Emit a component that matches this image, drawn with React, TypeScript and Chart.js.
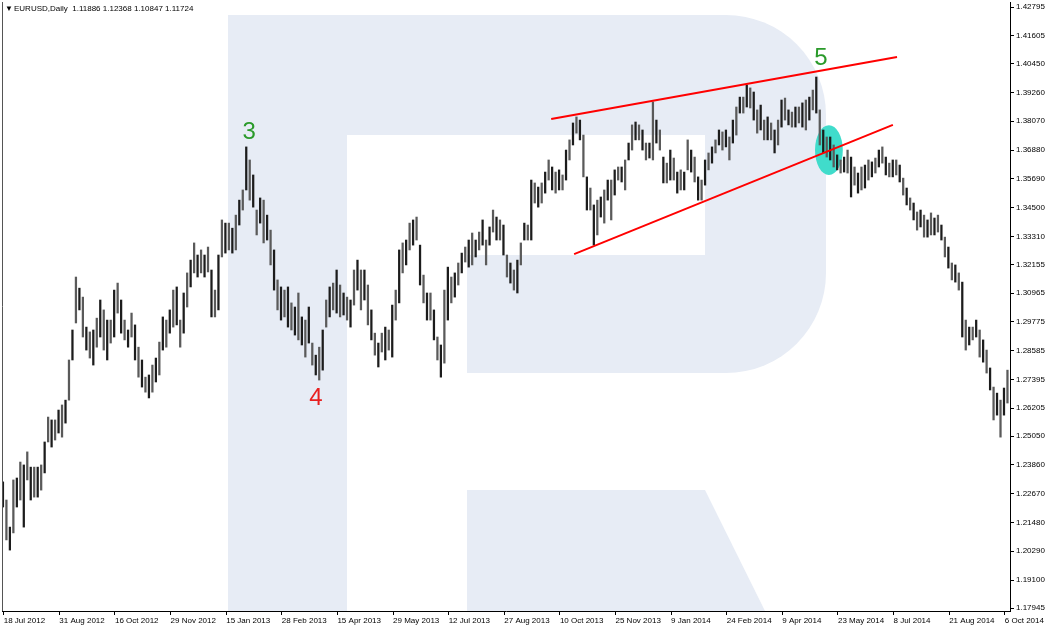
import React, { useEffect, useRef } from "react";
import { Chart, registerables } from "chart.js";

Chart.register(...registerables);

// ---------- data ----------
const headerText = "EURUSD,Daily  1.11886 1.12368 1.10847 1.11724";

const tickLabels = [
  "18 Jul 2012", "31 Aug 2012", "16 Oct 2012", "29 Nov 2012", "15 Jan 2013",
  "28 Feb 2013", "15 Apr 2013", "29 May 2013", "12 Jul 2013", "27 Aug 2013",
  "10 Oct 2013", "25 Nov 2013", "9 Jan 2014", "24 Feb 2014", "9 Apr 2014",
  "23 May 2014", "8 Jul 2014", "21 Aug 2014", "6 Oct 2014",
];
const barsPerTick = 16;

const priceTicks = [
  1.42795, 1.41605, 1.4045, 1.3926, 1.3807, 1.3688, 1.3569, 1.345, 1.3331,
  1.32155, 1.30965, 1.29775, 1.28585, 1.27395, 1.26205, 1.2505, 1.2386,
  1.2267, 1.2148, 1.2029, 1.191, 1.17945,
];
const priceMin = 1.17821;
const priceMax = 1.43002;

// one bar = two trading days (high / low)
const highs = [
  1.2316, 1.2241, 1.2129, 1.2324, 1.2332, 1.2398, 1.2386, 1.2440, 1.2377, 1.2377,
  1.2377, 1.2386, 1.2481, 1.2584, 1.2572, 1.2572, 1.2613, 1.2634, 1.2654, 1.2820,
  1.2944, 1.3163, 1.3117, 1.3080, 1.2956, 1.2936, 1.2944, 1.2993, 1.3068, 1.3027,
  1.2985, 1.2985, 1.3109, 1.3138, 1.3068, 1.2985, 1.2944, 1.3014, 1.2965, 1.2873,
  1.2820, 1.2749, 1.2758, 1.2799, 1.2828, 1.2894, 1.2998, 1.2985, 1.3027, 1.3109,
  1.3122, 1.2985, 1.3097, 1.3180, 1.3233, 1.3304, 1.3254, 1.3275, 1.3254, 1.3287,
  1.3192, 1.3109, 1.3254, 1.3399, 1.3386, 1.3386, 1.3365, 1.3419, 1.3481, 1.3523,
  1.3701, 1.3647, 1.3585, 1.3440, 1.3490, 1.3481, 1.3419, 1.3357, 1.3275, 1.3151,
  1.3122, 1.3109, 1.3122, 1.3056, 1.3039, 1.3097, 1.2998, 1.2985, 1.3039, 1.2890,
  1.2840, 1.2873, 1.2944, 1.3068, 1.3122, 1.3138, 1.3192, 1.3130, 1.3097, 1.3080,
  1.3068, 1.3192, 1.3233, 1.3192, 1.3192, 1.3130, 1.3027, 1.2931, 1.2890, 1.2931,
  1.2956, 1.2944, 1.3047, 1.3109, 1.3275, 1.3304, 1.3316, 1.3386, 1.3399, 1.3411,
  1.3295, 1.3171, 1.3097, 1.3097, 1.3027, 1.2915, 1.2882, 1.3109, 1.3204, 1.3163,
  1.3180, 1.3221, 1.3262, 1.3287, 1.3316, 1.3345, 1.3316, 1.3349, 1.3399, 1.3316,
  1.3370, 1.3440, 1.3411, 1.3399, 1.3378, 1.3254, 1.3221, 1.3192, 1.3233, 1.3304,
  1.3386, 1.3378, 1.3564, 1.3552, 1.3535, 1.3552, 1.3597, 1.3647, 1.3618, 1.3597,
  1.3606, 1.3585, 1.3688, 1.3730, 1.3800, 1.3825, 1.3812, 1.3750, 1.3577, 1.3531,
  1.3461, 1.3481, 1.3494, 1.3523, 1.3564, 1.3564, 1.3606, 1.3618, 1.3618, 1.3647,
  1.3717, 1.3792, 1.3804, 1.3792, 1.3771, 1.3717, 1.3717, 1.3887, 1.3812, 1.3771,
  1.3659, 1.3634, 1.3688, 1.3655, 1.3597, 1.3606, 1.3597, 1.3730, 1.3688, 1.3659,
  1.3577, 1.3564, 1.3647, 1.3676, 1.3701, 1.3730, 1.3771, 1.3763, 1.3771, 1.3742,
  1.3812, 1.3866, 1.3907, 1.3907, 1.3957, 1.3945, 1.3928, 1.3854, 1.3874, 1.3812,
  1.3825, 1.3800, 1.3771, 1.3812, 1.3895, 1.3903, 1.3854, 1.3845, 1.3866, 1.3866,
  1.3883, 1.3895, 1.3907, 1.3936, 1.3990, 1.3854, 1.3771, 1.3742, 1.3742, 1.3709,
  1.3668, 1.3647, 1.3659, 1.3688, 1.3659, 1.3618, 1.3593, 1.3618, 1.3626, 1.3647,
  1.3639, 1.3655, 1.3688, 1.3701, 1.3659, 1.3634, 1.3647, 1.3647, 1.3626, 1.3572,
  1.3531, 1.3490, 1.3469, 1.3432, 1.3440, 1.3419, 1.3399, 1.3428, 1.3407, 1.3419,
  1.3378, 1.3328, 1.3287, 1.3221, 1.3213, 1.3180, 1.3142, 1.2985, 1.2956, 1.2956,
  1.2985, 1.2944, 1.2903, 1.2861, 1.2787, 1.2708, 1.2683, 1.2654, 1.2704, 1.2778,
];

const lows = [
  1.2212, 1.2076, 1.2034, 1.2105, 1.2212, 1.2241, 1.2129, 1.2324, 1.2241, 1.2253,
  1.2253, 1.2282, 1.2353, 1.2481, 1.2460, 1.2489, 1.2518, 1.2501, 1.2559, 1.2654,
  1.2820, 1.2973, 1.3027, 1.2915, 1.2861, 1.2828, 1.2799, 1.2873, 1.2915, 1.2861,
  1.2820, 1.2890, 1.2915, 1.3014, 1.2931, 1.2903, 1.2873, 1.2915, 1.2820, 1.2749,
  1.2708, 1.2687, 1.2663, 1.2687, 1.2729, 1.2758, 1.2861, 1.2873, 1.2931, 1.2956,
  1.2965, 1.2873, 1.2931, 1.3039, 1.3122, 1.3180, 1.3163, 1.3180, 1.3163, 1.3184,
  1.2998, 1.2998, 1.3027, 1.3246, 1.3262, 1.3275, 1.3262, 1.3275, 1.3378, 1.3440,
  1.3523, 1.3481, 1.3452, 1.3337, 1.3386, 1.3304, 1.3316, 1.3213, 1.3109, 1.3027,
  1.2985, 1.2998, 1.2956, 1.2944, 1.2923, 1.2903, 1.2882, 1.2832, 1.2890, 1.2799,
  1.2758, 1.2737, 1.2778, 1.2956, 1.2998, 1.3027, 1.3014, 1.2998, 1.3006, 1.2985,
  1.2956, 1.3047, 1.3109, 1.3027, 1.3068, 1.2965, 1.2903, 1.2840, 1.2791, 1.2853,
  1.2820, 1.2861, 1.2832, 1.2985, 1.3056, 1.3180, 1.3213, 1.3275, 1.3295, 1.3316,
  1.3130, 1.3056, 1.2985, 1.2985, 1.2903, 1.2820, 1.2749, 1.2807, 1.2985, 1.3056,
  1.3080, 1.3130, 1.3180, 1.3225, 1.3204, 1.3213, 1.3246, 1.3275, 1.3295, 1.3213,
  1.3295, 1.3349, 1.3316, 1.3316, 1.3254, 1.3163, 1.3138, 1.3109, 1.3097, 1.3213,
  1.3316, 1.3316, 1.3316, 1.3469, 1.3452, 1.3469, 1.3510, 1.3564, 1.3523, 1.3510,
  1.3523, 1.3523, 1.3564, 1.3647, 1.3709, 1.3758, 1.3730, 1.3577, 1.3440, 1.3440,
  1.3295, 1.3337, 1.3411, 1.3386, 1.3481, 1.3399, 1.3502, 1.3564, 1.3556, 1.3523,
  1.3647, 1.3688, 1.3730, 1.3730, 1.3688, 1.3647, 1.3655, 1.3647, 1.3717, 1.3688,
  1.3552, 1.3552, 1.3564, 1.3564, 1.3510, 1.3523, 1.3523, 1.3606, 1.3597, 1.3556,
  1.3481, 1.3481, 1.3543, 1.3606, 1.3634, 1.3676, 1.3709, 1.3688, 1.3701, 1.3647,
  1.3717, 1.3750, 1.3841, 1.3841, 1.3866, 1.3862, 1.3812, 1.3758, 1.3771, 1.3730,
  1.3730, 1.3730, 1.3676, 1.3709, 1.3783, 1.3812, 1.3792, 1.3783, 1.3783, 1.3800,
  1.3783, 1.3771, 1.3812, 1.3854, 1.3841, 1.3709, 1.3676, 1.3659, 1.3647, 1.3618,
  1.3606, 1.3593, 1.3597, 1.3593, 1.3494, 1.3543, 1.3510, 1.3523, 1.3531, 1.3564,
  1.3577, 1.3593, 1.3618, 1.3634, 1.3585, 1.3577, 1.3577, 1.3585, 1.3556, 1.3502,
  1.3461, 1.3440, 1.3399, 1.3357, 1.3370, 1.3328, 1.3328, 1.3337, 1.3337, 1.3349,
  1.3316, 1.3246, 1.3200, 1.3151, 1.3142, 1.3109, 1.2915, 1.2861, 1.2882, 1.2903,
  1.2915, 1.2832, 1.2811, 1.2766, 1.2696, 1.2572, 1.2592, 1.2501, 1.2592, 1.2642,
];

// trend lines (bar index, price)
const upperTrend = [
  { x: 157.5, y: 1.3816 },
  { x: 257.0, y: 1.4073 },
];
const lowerTrend = [
  { x: 164.1, y: 1.3258 },
  { x: 255.8, y: 1.3792 },
];

// wave labels (bar index, price)
const waveLabels = [
  { text: "3", x: 70.6, y: 1.3763, color: "#2a9a2a" },
  { text: "4", x: 89.8, y: 1.2663, color: "#e82020" },
  { text: "5", x: 235.1, y: 1.4069, color: "#2a9a2a" },
];

// breakout marker (bar index, price, half extents)
const breakout = { x: 237.4, y: 1.3688, halfBars: 4, halfPrice: 0.0103 };

// ---------- styles ----------
const FONT = "'Liberation Sans', Arial, sans-serif";
const WATERMARK = "#e7ecf5";

export default function App() {
  const ref = useRef<HTMLCanvasElement | null>(null);

  useEffect(() => {
    const canvas = ref.current;
    if (!canvas) return;
    const N = highs.length;
    const labels = highs.map((_, i) =>
      i % barsPerTick === 0 ? tickLabels[i / barsPerTick] ?? "" : ""
    );

    const bgPlugin = {
      id: "bgWatermark",
      beforeDraw(chart: any) {
        const { ctx, chartArea: ca } = chart;
        ctx.save();
        ctx.fillStyle = "#ffffff";
        ctx.fillRect(0, 0, chart.width, chart.height);
        ctx.beginPath();
        ctx.rect(ca.left, ca.top, ca.right - ca.left, ca.bottom - ca.top);
        ctx.clip();
        const sx = (ca.right - ca.left) / 1008;
        const sy = (ca.bottom - ca.top) / 609;
        const X = (v: number) => ca.left + (v - 2) * sx;
        const Y = (v: number) => ca.top + (v - 2) * sy;
        ctx.fillStyle = WATERMARK;
        // bowl
        const r = 100 * sx;
        ctx.beginPath();
        ctx.moveTo(X(228), Y(15));
        ctx.lineTo(X(826) - r, Y(15));
        ctx.arcTo(X(826), Y(15), X(826), Y(15) + r, r);
        ctx.lineTo(X(826), Y(373) - r);
        ctx.arcTo(X(826), Y(373), X(826) - r, Y(373), r);
        ctx.lineTo(X(228), Y(373));
        ctx.closePath();
        ctx.fill();
        // stem
        ctx.fillRect(X(228), Y(373), X(347) - X(228), Y(615) - Y(373));
        // leg
        ctx.beginPath();
        ctx.moveTo(X(467), Y(490));
        ctx.lineTo(X(705), Y(490));
        ctx.lineTo(X(767), Y(615));
        ctx.lineTo(X(467), Y(615));
        ctx.closePath();
        ctx.fill();
        // holes
        ctx.fillStyle = "#ffffff";
        ctx.fillRect(X(347), Y(135), X(705) - X(347), Y(255) - Y(135));
        ctx.fillRect(X(347), Y(255), X(467) - X(347), Y(373) - Y(255));
        ctx.restore();
      },
    };

    const markerPlugin = {
      id: "breakoutMarker",
      beforeDatasetsDraw(chart: any) {
        const { ctx } = chart;
        const xs = chart.scales.xl;
        const ys = chart.scales.y;
        const cx = xs.getPixelForValue(breakout.x);
        const cy = ys.getPixelForValue(breakout.y);
        const rx = Math.abs(xs.getPixelForValue(breakout.x + breakout.halfBars) - cx);
        const ry = Math.abs(ys.getPixelForValue(breakout.y + breakout.halfPrice) - cy);
        ctx.save();
        ctx.fillStyle = "#40dccb";
        ctx.beginPath();
        ctx.ellipse(cx, cy, rx, ry, 0, 0, Math.PI * 2);
        ctx.fill();
        ctx.restore();
      },
      afterDatasetsDraw(chart: any) {
        const { ctx } = chart;
        const xs = chart.scales.xl;
        const ys = chart.scales.y;
        ctx.save();
        ctx.font = `24px ${FONT}`;
        ctx.textAlign = "center";
        ctx.textBaseline = "middle";
        waveLabels.forEach((w) => {
          ctx.fillStyle = w.color;
          ctx.fillText(w.text, xs.getPixelForValue(w.x), ys.getPixelForValue(w.y));
        });
        ctx.restore();
      },
      afterDraw(chart: any) {
        const { ctx, chartArea: ca } = chart;
        ctx.save();
        ctx.strokeStyle = "#555555";
        ctx.lineWidth = 1;
        ctx.beginPath();
        ctx.moveTo(Math.round(ca.left) + 0.5, ca.top);
        ctx.lineTo(Math.round(ca.left) + 0.5, ca.bottom);
        ctx.stroke();
        ctx.fillStyle = "#000000";
        ctx.font = `8px ${FONT}`;
        ctx.textBaseline = "middle";
        ctx.textAlign = "left";
        ctx.fillText("\u25BC", ca.left + 3, ca.top + 7);
        ctx.fillText(headerText, ca.left + 12, ca.top + 7);
        ctx.restore();
      },
    };

    const chart = new Chart(canvas, {
      type: "bar",
      data: {
        labels,
        datasets: [
          {
            type: "bar",
            label: "EURUSD",
            xAxisID: "x",
            yAxisID: "y",
            data: lows.map((l, i) => [l, highs[i]]) as any,
            backgroundColor: highs.map((_, i) => (i % 2 ? "#5a5a5a" : "#1c1c1c")),
            borderWidth: 0,
            borderSkipped: false,
            barThickness: 1.6,
            order: 2,
          } as any,
          {
            type: "line",
            label: "upper",
            xAxisID: "xl",
            yAxisID: "y",
            data: upperTrend as any,
            borderColor: "#ff0000",
            borderWidth: 2,
            pointRadius: 0,
            order: 1,
          } as any,
          {
            type: "line",
            label: "lower",
            xAxisID: "xl",
            yAxisID: "y",
            data: lowerTrend as any,
            borderColor: "#ff0000",
            borderWidth: 2,
            pointRadius: 0,
            order: 1,
          } as any,
        ],
      },
      options: {
        responsive: false,
        animation: false,
        devicePixelRatio: 1,
        events: [],
        layout: { padding: { left: 2, top: 2, right: 0, bottom: 0 } },
        plugins: {
          legend: { display: false },
          tooltip: { enabled: false },
        },
        scales: {
          x: {
            type: "category",
            offset: true,
            afterBuildTicks: (s: any) => {
              s.ticks = s.ticks.filter((t: any) => t.value % barsPerTick === 0);
            },
            afterFit: (s: any) => {
              s.height = 19;
              s.paddingLeft = 0;
              s.paddingRight = 0;
            },
            grid: {
              display: true,
              drawOnChartArea: false,
              drawTicks: true,
              tickLength: 4,
              color: "#000000",
              offset: false,
            },
            border: { display: true, color: "#000000" },
            ticks: {
              autoSkip: false,
              maxRotation: 0,
              minRotation: 0,
              align: "start",
              padding: 1,
              color: "#000000",
              font: { family: FONT, size: 8 },
            },
          } as any,
          xl: {
            type: "linear",
            axis: "x",
            display: false,
            offset: false,
            grid: { offset: false },
            min: -0.5,
            max: N - 0.5,
          } as any,
          y: {
            type: "linear",
            position: "right",
            min: priceMin,
            max: priceMax,
            afterBuildTicks: (s: any) => {
              s.ticks = priceTicks.map((v) => ({ value: v }));
            },
            afterFit: (s: any) => {
              s.width = 42;
              s.paddingTop = 0;
              s.paddingBottom = 0;
            },
            grid: {
              drawOnChartArea: false,
              drawTicks: true,
              tickLength: 4,
              color: "#000000",
            },
            border: { display: true, color: "#000000" },
            ticks: {
              autoSkip: false,
              padding: 2,
              color: "#000000",
              font: { family: FONT, size: 8 },
              callback: (v: any) => Number(v).toFixed(5),
            },
          } as any,
        },
      },
      plugins: [bgPlugin, markerPlugin],
    });

    return () => chart.destroy();
  }, []);

  return (
    <div
      style={{
        position: "fixed",
        left: 0,
        top: 0,
        width: 1052,
        height: 630,
        background: "#ffffff",
      }}
    >
      <canvas ref={ref} width={1052} height={630} />
    </div>
  );
}
